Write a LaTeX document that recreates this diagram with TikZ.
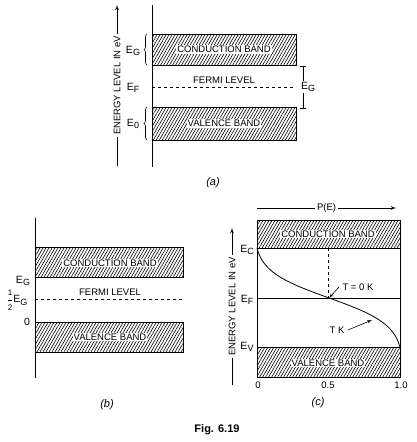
\documentclass[tikz,border=0pt]{standalone}
\usepackage{amsmath}
\usepackage{fontspec}
\setmainfont{Liberation Sans}
\usepackage{tikz}
\usetikzlibrary{shapes,arrows,patterns.meta,decorations.pathreplacing}

\newcommand{\lvl}[1]{E\raisebox{-0.45ex}{\small #1}}

\begin{document}
\begin{tikzpicture}[auto,>=latex',x=1pt,y=-1pt,font=\fontsize{9.5}{11}\selectfont]
    \tikzstyle{band} = [draw, line width=0.9pt, pattern={Lines[angle=60,distance=2.6pt,line width=0.6pt]}]
    \tikzstyle{bandtxt} = [fill=white, inner sep=1pt]
    \tikzstyle{lvl} = [font=\fontsize{10.5}{12}\selectfont, inner sep=1pt]
    \tikzstyle{axis} = [line width=0.9pt]
    \tikzstyle{onaxis} = [auto=false, midway, fill=white, inner sep=2pt]
    \tikzstyle{partcap} = [font=\itshape\fontsize{11}{13}\selectfont]
    \tikzstyle{tmp} = [coordinate]
    \useasboundingbox (0,0) rectangle (417,442);
    %Part (a)
    \draw[axis] (152,5) -- (152,167);
    \draw[band] (152,34) rectangle (296,65);
    \draw[band] (152,107) rectangle (296,140);
    \node[bandtxt] (cbA) at (224,49.5) {CONDUCTION BAND};
    \node[bandtxt] (vbA) at (224,123.5) {VALENCE BAND};
    \node (flA) at (224,80) {FERMI LEVEL};
    \node[tmp] (fA0) at (152,87) {};
    \node[tmp] (fA1) at (296,87) {};
    \draw[dashed, line width=0.8pt] (fA0) -- (fA1);
    \draw[decorate, decoration={brace,amplitude=3pt}, line width=0.6pt] (147,65) -- (147,34);
    \draw[decorate, decoration={brace,amplitude=3pt}, line width=0.6pt] (147,140) -- (147,107);
    \node[lvl] (egA) at (133,51) {\lvl{G}};
    \node[lvl] (efA) at (133,88) {\lvl{F}};
    \node[lvl] (e0A) at (133,124) {\lvl{0}};
    \node[tmp] (gTop) at (303,66) {};
    \node[tmp] (gBot) at (303,109) {};
    \draw[|-|, line width=0.7pt] (gTop) -- (gBot);
    \node[lvl, fill=white] (egR) at (308,87) {\lvl{G}};
    \node[tmp] (eA0) at (117,166) {};
    \node[tmp] (eA1) at (117,5) {};
    \draw[->, line width=0.7pt] (eA0) -- node[onaxis, sloped] {ENERGY LEVEL IN eV} (eA1);
    \node[partcap] (capA) at (213,183) {(a)};
    %Part (b)
    \draw[axis] (35,218) -- (35,378);
    \draw[band] (35,247) rectangle (183,277);
    \draw[band] (35,322) rectangle (183,352);
    \node[bandtxt] (cbB) at (110,263) {CONDUCTION BAND};
    \node[bandtxt] (vbB) at (110,337) {VALENCE BAND};
    \node (flB) at (110,292) {FERMI LEVEL};
    \node[tmp] (fB0) at (35,299) {};
    \node[tmp] (fB1) at (183,299) {};
    \draw[dashed, line width=0.8pt] (fB0) -- (fB1);
    \node[lvl] (egB) at (23,281) {\lvl{G}};
    \node[lvl] (hgB) at (17,300) {$\dfrac{\text{\footnotesize 1}}{\text{\footnotesize 2}}$\lvl{G}};
    \node[lvl] (zB) at (27,322) {0};
    \node[partcap] (capB) at (107,405) {(b)};
    %Part (c)
    \draw[band] (257,220) rectangle (400,248);
    \draw[band] (257,347) rectangle (400,377);
    \draw[axis] (257,248) -- (257,347);
    \draw[axis] (400,248) -- (400,347);
    \node[bandtxt] (cbC) at (328,234) {CONDUCTION BAND};
    \node[bandtxt] (vbC) at (328,363) {VALENCE BAND};
    \node[tmp] (fC0) at (257,298) {};
    \node[tmp] (fC1) at (400,298) {};
    \draw[line width=0.8pt] (fC0) -- (fC1);
    \node[tmp] (half) at (328,298) {};
    \node[tmp] (halfTop) at (328,248) {};
    \draw[dashed, line width=0.8pt] (halfTop) -- (half);
    \draw[line width=0.8pt, domain=248:347.5, samples=80, smooth, variable=\t]
        plot ({257+143*((1/(1+exp((297.75-\t)/13.6)))-0.0255)/0.949}, \t);
    \node[lvl] (ecC) at (247,250) {\lvl{C}};
    \node[lvl] (efC) at (247,300) {\lvl{F}};
    \node[lvl] (evC) at (247,347) {\lvl{V}};
    \node (t0) at (358,287) {T = 0 K};
    \node[tmp] (t0Tip) at (329,298) {};
    \draw[->, line width=0.6pt] (t0.west) -- (t0Tip);
    \node (tk) at (337,330) {T K};
    \node[tmp] (tkTip) at (372,320) {};
    \draw[->, line width=0.6pt] (tk.east) -- (tkTip);
    \node[tmp] (pE0) at (257,208) {};
    \node[tmp] (pE1) at (396,208) {};
    \draw[->, line width=0.7pt] (pE0) -- node[onaxis] {P(E)} (pE1);
    \node[tmp] (eC0) at (232,385) {};
    \node[tmp] (eC1) at (232,228) {};
    \draw[->, line width=0.7pt] (eC0) -- node[onaxis, sloped] {ENERGY LEVEL IN eV} (eC1);
    \node (x0) at (258,385) {0};
    \node (x05) at (328,385) {0.5};
    \node (x10) at (401,385) {1.0};
    \node[partcap] (capC) at (318,403) {(c)};
    \node[font=\bfseries\fontsize{11}{13}\selectfont] (fig) at (217,430) {Fig. 6.19};
\end{tikzpicture}
\end{document}
